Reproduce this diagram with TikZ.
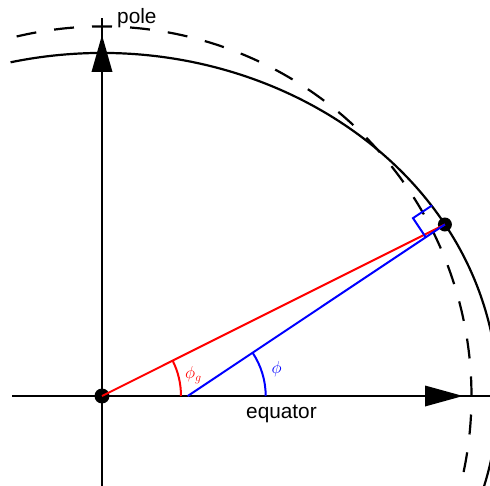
\documentclass[tikz,border=0pt]{standalone}
\usepackage{fontspec}
\setmainfont{Liberation Sans}
\usetikzlibrary{calc}
\definecolor{pured}{RGB}{255,0,0}
\definecolor{pblue}{RGB}{0,0,255}
\begin{document}
\begin{tikzpicture}[x=1pt,y=1pt,
  axis/.style={line width=2.5pt},
  curve/.style={line width=2.2pt},
  geoc/.style={line width=2pt, draw=pured},
  geod/.style={line width=2pt, draw=pblue},
  lbl/.style={inner sep=0pt, anchor=base west, font=\fontsize{20.8}{24}\selectfont},
  ang/.style={inner sep=0pt, anchor=base west, font=\fontsize{17.28}{20}\selectfont}]
\useasboundingbox (-102,-89) rectangle (388,396);
\clip (-102,-89) rectangle (388,396);
% key points
\coordinate (O) at (0,0);
\coordinate (P) at (342.9,171.5);
\coordinate (F) at (85.7,0);
\coordinate (Vb) at (0,-95);
\coordinate (Vt) at (0,378);
\coordinate (Hl) at (-89.5,0);
\coordinate (Hr) at (395,0);
% axes
\draw[axis] (Vb) -- (Vt);
\draw[axis] (Hl) -- (Hr);
\fill (0,361) -- (-10.5,324) -- (10.5,324) -- cycle;
\fill (361,0) -- (323,10.5) -- (323,-10.5) -- cycle;
% ellipse and circle
\draw[curve] ({396*cos(103.35)},{343*sin(103.35)}) arc[start angle=103.35, end angle=-20, x radius=396, y radius=343];
\draw[curve, dash pattern=on 20pt off 18.06pt] ({369.5*cos(103.354)},{369.5*sin(103.354)}) arc[start angle=103.354, end angle=-20, radius=369.5];
% dots
\fill (O) circle[radius=7.5];
\fill (P) circle[radius=7];
% latitude lines
\draw[geoc] (O) -- (P);
\draw[geod] (F) -- (P);
% right angle mark
\coordinate (RA) at ($(P)!23pt!(F)$);
\coordinate (RB) at ($(P)!23pt!-90:(F)$);
\draw[geod] (RA) -- ($(RA)+(RB)-(P)$) -- (RB);
% angle arcs
\draw[geoc] ($(O)+(79,0)$) arc[start angle=0, end angle=26.57, radius=79];
\draw[geod] ($(F)+(78,0)$) arc[start angle=0, end angle=33.69, radius=78];
% labels
\node[lbl] (pole) at (15,372) {pole};
\node[lbl] (eq) at (144,-22) {equator};
\node[ang, text=pured] (phig) at (83,17.5) {$\phi_g$};
\node[ang, text=pblue] (phi) at (169.5,22.4) {$\phi$};
\end{tikzpicture}
\end{document}
